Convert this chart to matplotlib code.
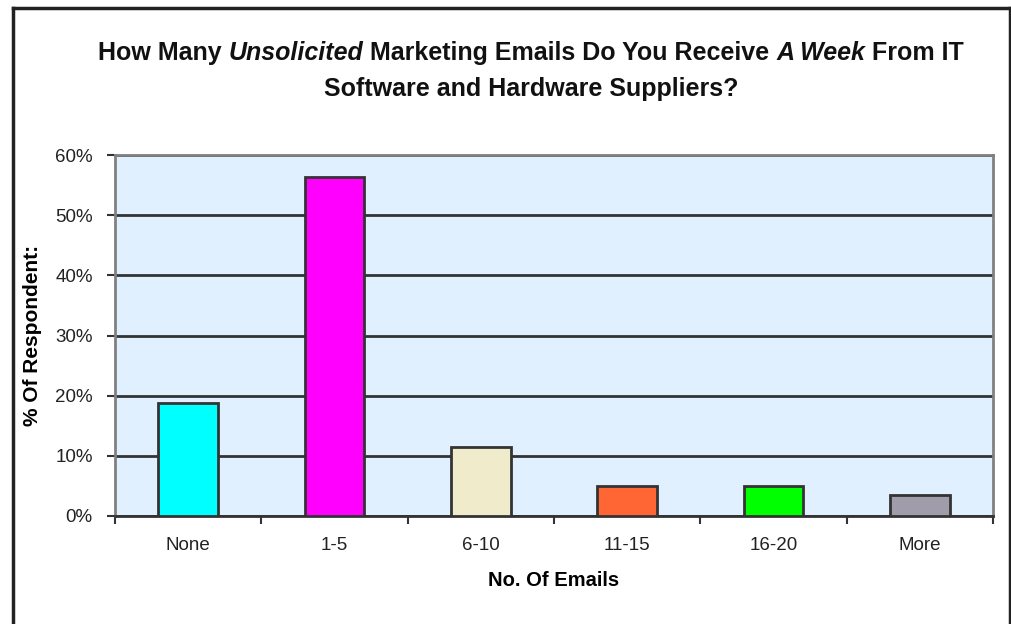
import matplotlib
matplotlib.use("Agg")
import matplotlib.pyplot as plt
from matplotlib.ticker import FixedLocator, PercentFormatter
from matplotlib.lines import Line2D

categories = ["None", "1-5", "6-10", "11-15", "16-20", "More"]
values = [18.8, 56.4, 11.4, 5.0, 5.0, 3.5]
colors = ["#00FFFF", "#FF00FF", "#EFEBCB", "#FF6633", "#00FF00", "#A09CAA"]
yticks = [0, 10, 20, 30, 40, 50, 60]

title_parts = [
    [("How Many ", False), ("Unsolicited", True), (" Marketing Emails Do You Receive ", False),
     ("A Week", True), (" From IT", False)],
    [("Software and Hardware Suppliers?", False)],
]

plt.rcParams['font.family'] = ['Liberation Sans', 'DejaVu Sans']

fig = plt.figure(figsize=(10.12, 6.24), dpi=100)
ax = fig.add_axes([115 / 1012, 108 / 624, 878 / 1012, 361 / 624])
ax.set_facecolor("#E0F0FF")

x = range(len(categories))
ax.bar(x, values, width=0.41, color=colors, edgecolor="#333333", linewidth=2, zorder=3)

ax.set_xlim(-0.5, len(categories) - 0.5)
ax.set_ylim(0, 60)
ax.set_yticks(yticks)
ax.yaxis.set_major_formatter(PercentFormatter(decimals=0))
ax.grid(axis="y", color="#333333", linewidth=2, zorder=1)
ax.set_axisbelow(True)

ax.set_xticks(list(x))
ax.set_xticklabels(categories)
ax.xaxis.set_minor_locator(FixedLocator([i + 0.5 for i in range(-1, len(categories))]))
ax.tick_params(axis="x", which="major", length=0, pad=15, labelsize=13.5, labelcolor="#222222")
ax.tick_params(axis="x", which="minor", length=6, width=1.5, color="#333333", direction="out")
ax.tick_params(axis="y", length=6, width=1.5, color="#333333", direction="out", pad=10,
               labelsize=13.5, labelcolor="#222222")

for side in ["left", "right", "top"]:
    ax.spines[side].set_color("#808080")
    ax.spines[side].set_linewidth(2)
ax.spines["bottom"].set_color("#333333")
ax.spines["bottom"].set_linewidth(2)

ax.set_xlabel("No. Of Emails", fontsize=14.5, fontweight="bold", labelpad=12)
ax.set_ylabel("% Of Respondent:", fontsize=15, fontweight="bold")
ax.yaxis.set_label_coords(-73 / 878, 0.5)

# outer frame
fig.add_artist(Line2D([13 / 1012, 13 / 1012], [0, 1 - 8 / 624], color="#222222", lw=2.5,
                      transform=fig.transFigure))
fig.add_artist(Line2D([13 / 1012, 1], [1 - 8 / 624, 1 - 8 / 624], color="#222222", lw=2.5,
                      transform=fig.transFigure))
fig.add_artist(Line2D([1 - 1.5 / 1012, 1 - 1.5 / 1012], [0, 1 - 8 / 624], color="#222222", lw=2.5,
                      transform=fig.transFigure))

# title with italic words, laid out piece by piece
renderer = fig.canvas.get_renderer()
line_y = [1 - 53 / 624, 1 - 89 / 624]
center_x = 531 / 1012
for parts, yy in zip(title_parts, line_y):
    texts = []
    for s, it in parts:
        t = fig.text(0, yy, s, fontsize=18, fontweight="bold",
                     style="italic" if it else "normal", va="center", ha="left", color="#111111")
        texts.append(t)
    widths = [t.get_window_extent(renderer).width for t in texts]
    total = sum(widths)
    px = center_x * 1012 - total / 2
    for t, w in zip(texts, widths):
        t.set_x(px / 1012)
        px += w

fig.savefig("out.png", dpi=100)
